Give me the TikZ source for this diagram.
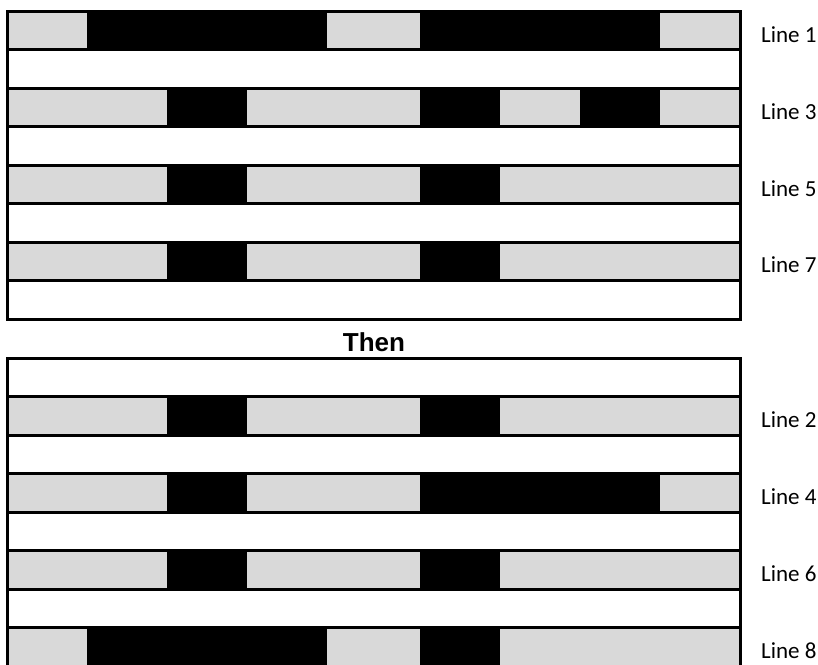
\documentclass[tikz,border=0pt]{standalone}
\usepackage{fontspec}
\setmainfont{Carlito}
\newfontfamily\arialfont{Liberation Sans}
\definecolor{cellgray}{HTML}{D9D9D9}
\begin{document}
\begin{tikzpicture}[x=1pt,y=-1pt,
  gridline/.style={line width=3pt},
  lbl/.style={anchor=base west, inner sep=0pt, font=\fontsize{23}{23}\selectfont},
  titletext/.style={anchor=base, inner sep=0pt, font=\arialfont\bfseries\fontsize{26}{26}\selectfont}]
\useasboundingbox (0,0) rectangle (818,664);
\def\pitch{38.45}
\def\topy{11.5}
\def\boty{358.5}
% top box rows
\foreach \r/\segs/\name in {1/{87/327,420/660}/1, 3/{167/247,420/500,580/660}/3, 5/{167/247,420/500}/5, 7/{167/247,420/500}/7} {
  \pgfmathsetmacro\ya{\topy+(\r-1)*\pitch}
  \pgfmathsetmacro\yb{\topy+\r*\pitch}
  \pgfmathsetmacro\yl{\topy+(\r-0.5)*\pitch+11.5}
  \fill[cellgray] (7.5,\ya) rectangle (740.5,\yb);
  \foreach \a/\b in \segs { \fill[black] (\a,\ya) rectangle (\b,\yb); }
  \node[lbl] (line\name) at (761,\yl) {Line \name};
}
% bottom box rows
\foreach \r/\segs/\name in {2/{167/247,420/500}/2, 4/{167/247,420/660}/4, 6/{167/247,420/500}/6, 8/{87/327,420/500}/8} {
  \pgfmathsetmacro\ya{\boty+(\r-1)*\pitch}
  \pgfmathsetmacro\yb{\boty+\r*\pitch}
  \pgfmathsetmacro\yl{\boty+(\r-0.5)*\pitch+11.5}
  \fill[cellgray] (7.5,\ya) rectangle (740.5,\yb);
  \foreach \a/\b in \segs { \fill[black] (\a,\ya) rectangle (\b,\yb); }
  \node[lbl] (line\name) at (761,\yl) {Line \name};
}
% grid lines
\foreach \k in {1,...,7} {
  \draw[gridline] (7.5,{\topy+\k*\pitch}) -- (740.5,{\topy+\k*\pitch});
  \draw[gridline] (7.5,{\boty+\k*\pitch}) -- (740.5,{\boty+\k*\pitch});
}
\draw[gridline] (7.5,\topy) rectangle (740.5,{\topy+8*\pitch});
\draw[gridline] (7.5,\boty) rectangle (740.5,{\boty+8*\pitch});
\node[titletext] (then) at (374,351) {Then};
\end{tikzpicture}
\end{document}
